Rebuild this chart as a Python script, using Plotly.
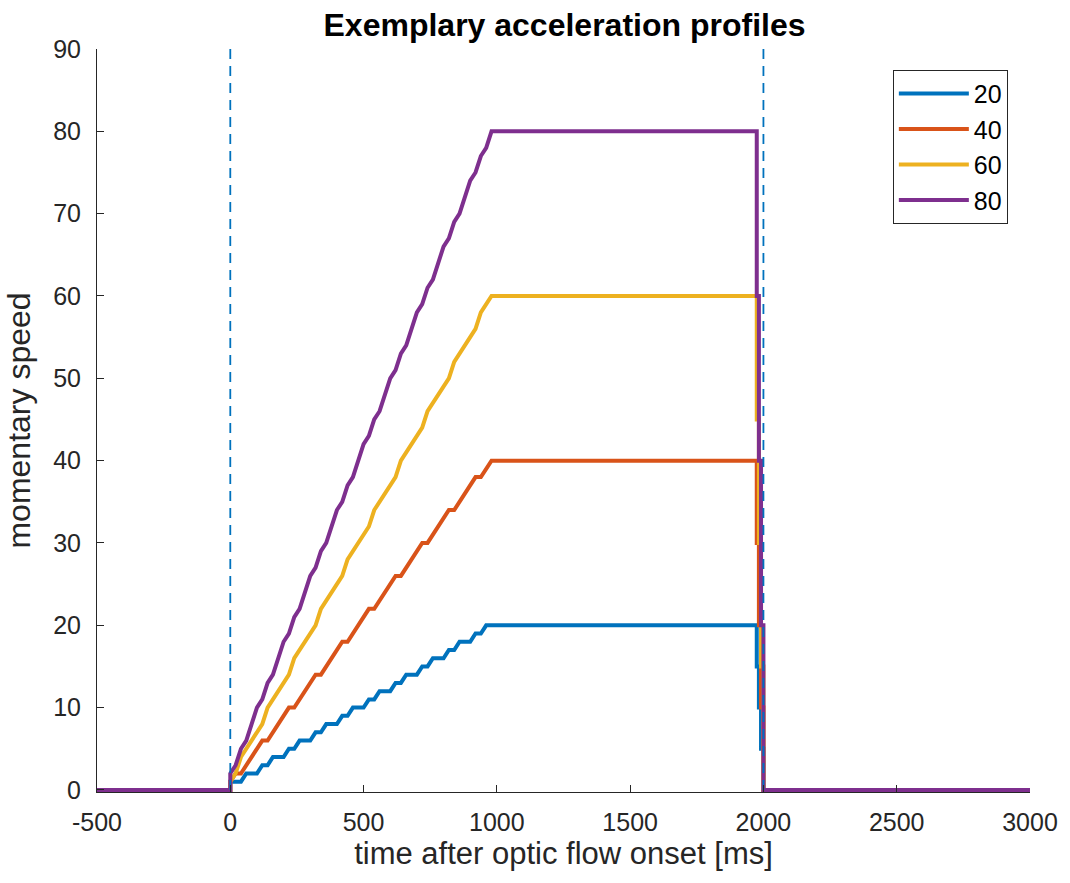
import plotly.graph_objects as go

# Time grid (ms) of the acceleration ramp and the speed reached at each frame
ramp_t = [0, 20, 40, 60, 80, 100, 120, 140, 160, 180, 200, 220, 240, 260, 280,
          300, 320, 340, 360, 380, 400, 420, 440, 460, 480, 500, 520, 540, 560,
          580, 600, 620, 640, 660, 680, 700, 720, 740, 760, 780, 800, 820, 840,
          860, 880, 900, 920, 940, 960, 980]

ramp_20 = [1, 1, 1, 2, 2, 2, 3, 3, 4, 4, 4, 5, 5, 6, 6, 6, 7, 7, 8, 8, 8, 9, 9,
           10, 10, 10, 11, 11, 12, 12, 12, 13, 13, 14, 14, 14, 15, 15, 16, 16,
           16, 17, 17, 18, 18, 18, 19, 19, 20, 20]
ramp_40 = [1, 2, 2, 3, 4, 5, 6, 6, 7, 8, 9, 10, 10, 11, 12, 13, 14, 14, 15, 16,
           17, 18, 18, 19, 20, 21, 22, 22, 23, 24, 25, 26, 26, 27, 28, 29, 30,
           30, 31, 32, 33, 34, 34, 35, 36, 37, 38, 38, 39, 40]
ramp_60 = [1, 2, 4, 5, 6, 7, 8, 10, 11, 12, 13, 14, 16, 17, 18, 19, 20, 22, 23,
           24, 25, 26, 28, 29, 30, 31, 32, 34, 35, 36, 37, 38, 40, 41, 42, 43,
           44, 46, 47, 48, 49, 50, 52, 53, 54, 55, 56, 58, 59, 60]
ramp_80 = [2, 3, 5, 6, 8, 10, 11, 13, 14, 16, 18, 19, 21, 22, 24, 26, 27, 29,
           30, 32, 34, 35, 37, 38, 40, 42, 43, 45, 46, 48, 50, 51, 53, 54, 56,
           58, 59, 61, 62, 64, 66, 67, 69, 70, 72, 74, 75, 77, 78, 80]

# Plateau end and stepwise stop at the end of the flow (ms, speed)
stop_t = [1975, 1975, 1983, 1983, 1991, 1991, 2000, 2000]
stop_20 = [20, 15, 15, 10, 10, 5, 5, 0]
stop_40 = [40, 30, 30, 20, 20, 10, 10, 0]
stop_60 = [60, 45, 45, 30, 30, 15, 15, 0]
stop_80 = [80, 60, 60, 40, 40, 20, 20, 0]

# Quiet periods before onset and after offset
t_start = -500
t_end = 3000

series_names = ["20", "40", "60", "80"]
ramps = [ramp_20, ramp_40, ramp_60, ramp_80]
stops = [stop_20, stop_40, stop_60, stop_80]
colors = ["#0072BD", "#D95319", "#EDB120", "#7E2F8E"]

# Vertical markers at flow onset and offset
marker_t = [0, 2000]

y_ticks = [0, 10, 20, 30, 40, 50, 60, 70, 80, 90]
x_ticks = [-500, 0, 500, 1000, 1500, 2000, 2500, 3000]
x_tick_labels = ["-500", "0", "500", "1000", "1500", "2000", "2500", "3000"]

text_color = "#262626"
font_family = "Liberation Sans, Arial, Helvetica, sans-serif"

fig = go.Figure()

for name, ramp, stop, color in zip(series_names, ramps, stops, colors):
    x = [t_start, 0] + ramp_t + stop_t + [t_end]
    y = [0, 0] + ramp + stop + [0]
    fig.add_trace(go.Scatter(
        x=x, y=y, name=name, mode="lines",
        line=dict(color=color, width=4),
    ))

for t in marker_t:
    fig.add_trace(go.Scatter(
        x=[t, t], y=[y_ticks[0], y_ticks[-1]], mode="lines",
        line=dict(color="#0072BD", width=1.8, dash="10px,7px"),
        showlegend=False, hoverinfo="skip",
    ))

fig.update_layout(
    width=1070, height=883,
    margin=dict(l=97, r=38, t=49, b=91),
    paper_bgcolor="white", plot_bgcolor="white",
    font=dict(family=font_family, color=text_color, size=25),
    title=dict(
        text="<b>Exemplary acceleration profiles</b>",
        x=(97 + 1032) / 2 / 1070, xanchor="center",
        y=1 - 25 / 883, yanchor="middle",
        font=dict(size=32, color="black"),
    ),
    showlegend=True,
    legend=dict(
        x=0.853, y=0.972, xanchor="left", yanchor="top",
        bgcolor="white", bordercolor=text_color, borderwidth=1,
        font=dict(size=25, color="black"),
        itemwidth=70, tracegroupgap=0,
    ),
)

fig.update_xaxes(
    range=[t_start, t_end], tickvals=x_ticks, ticktext=x_tick_labels,
    showgrid=False, zeroline=False,
    showline=True, linecolor=text_color, linewidth=1, mirror=False,
    ticks="inside", ticklen=7, tickwidth=1, tickcolor=text_color,
    ticklabelstandoff=8,
    tickfont=dict(size=25, color=text_color),
    title=dict(text="time after optic flow onset [ms]",
               font=dict(size=31, color=text_color), standoff=2),
)
fig.update_yaxes(
    range=[-0.25, 90], tickvals=y_ticks,
    showgrid=False, zeroline=False,
    showline=True, linecolor=text_color, linewidth=1, mirror=False,
    ticks="inside", ticklen=7, tickwidth=1, tickcolor=text_color,
    ticklabelstandoff=10,
    tickfont=dict(size=25, color=text_color),
    title=dict(text="momentary speed",
               font=dict(size=32, color=text_color), standoff=12),
)

fig.write_html("out.html")
